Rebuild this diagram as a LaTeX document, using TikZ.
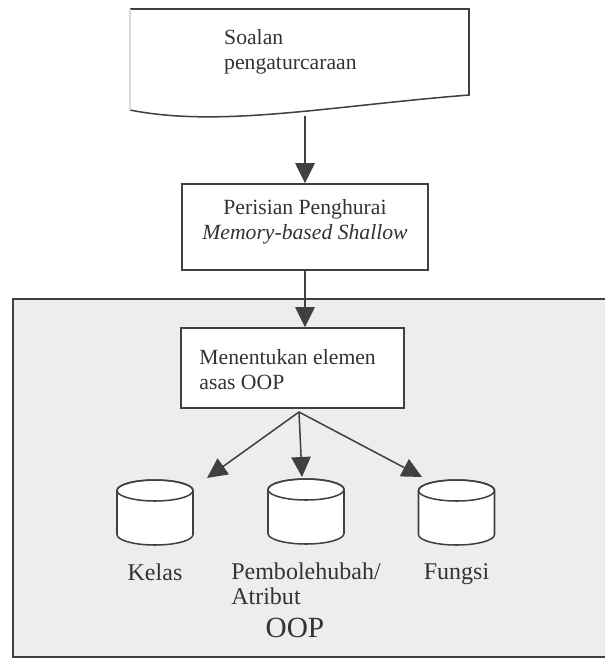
\documentclass[tikz,border=0pt]{standalone}
\usepackage{fontspec}
\setmainfont{Liberation Serif}
\usetikzlibrary{arrows.meta,positioning}

\definecolor{inkline}{gray}{0.25}
\definecolor{inktext}{gray}{0.2}
\definecolor{panelgray}{gray}{0.93}

\tikzset{
  line/.style={draw=inkline, line width=1.3pt},
  arr/.style={line, -{Triangle[length=0.6cm,width=0.58cm]}},
  box/.style={line, fill=white, minimum width=7.38cm, minimum height=2.58cm},
  txt/.style={text=inktext, font=\fontsize{18.5}{21.5}\selectfont, inner sep=0pt},
  dblabel/.style={txt, font=\fontsize{20.5}{21.5}\selectfont},
  dbase/.style={inner sep=0pt, minimum width=2.28cm, minimum height=1.95cm},
}

% database drum drawn round a named node
\newcommand{\dbdrum}[1]{%
  \begin{scope}[shift={(#1.center)}]
    \draw[line, fill=white] (-38,-22) -- (-38,22)
        arc[start angle=180, end angle=0, x radius=38, y radius=10.5] -- (38,-22)
        arc[start angle=0, end angle=-180, x radius=38, y radius=10.5] -- cycle;
    \draw[line] (0,-22) ellipse [x radius=38, y radius=10.5];
  \end{scope}}

\begin{document}
\begin{tikzpicture}[x=0.03cm, y=-0.03cm]
    \useasboundingbox (0,0) rectangle (604,659);

    % OOP panel
    \fill[panelgray] (13,299) rectangle (610,657);
    \draw[line] (610,299) -- (13,299) -- (13,657) -- (610,657);

    % document shape
    \draw[line, fill=white] (130,9) -- (469,9) -- (469,95)
        .. controls (330,106) and (220,128) .. (130,110);
    \draw[draw=inkline!20, line width=1.3pt] (130,110) -- (130,9);
    \node[txt, align=left, anchor=north west] (soalan) at (224,29) {Soalan\\pengaturcaraan};
    \coordinate (docbot) at (305,116);

    % parser box
    \node[box] (persian) at (305,227) {};
    \node[txt, align=center, below=0.48cm of persian.north] (persianT)
        {Perisian Penghurai\\\textit{Memory-based Shallow}};

    % element box
    \node[box, minimum width=6.69cm, minimum height=2.4cm] (menent) at (292.5,368) {};
    \node[txt, align=left, below right=0.66cm and 0.57cm of menent.north west] (menentT)
        {Menentukan elemen\\asas OOP};

    % databases
    \node[dbase] (kelas) at (155,512.5) {};
    \node[dbase] (pembol) at (306,511.5) {};
    \node[dbase] (fungsi) at (456.5,512.5) {};
    \dbdrum{kelas}
    \dbdrum{pembol}
    \dbdrum{fungsi}
    \node[dblabel, below=0.55cm of kelas] (kelasT) {Kelas};
    \node[dblabel, align=left, below=0.55cm of pembol] (pembolT) {Pembolehubah/\\Atribut};
    \node[dblabel, below=0.55cm of fungsi] (fungsiT) {Fungsi};
    \node[txt, font=\fontsize{25}{27}\selectfont, below=0.38cm of pembolT, xshift=-0.33cm] (oop) {OOP};

    % connectors
    \coordinate (fork) at (299,412);
    \coordinate (kelasIn) at (207,478);
    \coordinate (pembolIn) at (302,477);
    \coordinate (fungsiIn) at (422,477);

    \draw[arr] (docbot) -- (persian.north);
    \draw[arr] (persian.south) -- (persian.south |- menent.north);
    \draw[arr] (fork) -- (kelasIn);
    \draw[arr] (fork) -- (pembolIn);
    \draw[arr] (fork) -- (fungsiIn);
\end{tikzpicture}
\end{document}
